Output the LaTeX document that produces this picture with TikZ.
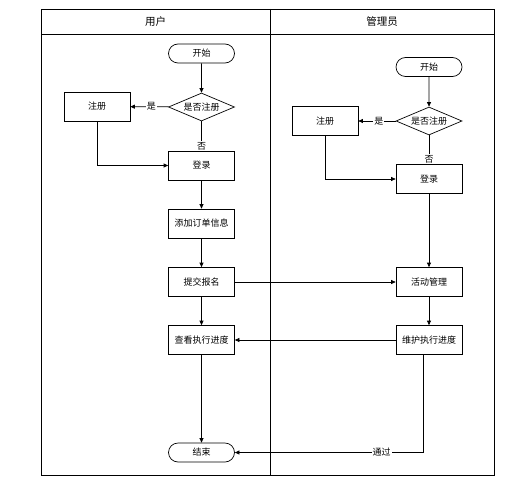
\documentclass[tikz,border=0pt]{standalone}
\usepackage{fontspec}
\setmainfont{Noto Sans CJK SC}
\usetikzlibrary{shapes.geometric,shapes.misc,arrows.meta}
\begin{document}
\begin{tikzpicture}[x=1pt,y=-1pt,
  every node/.style={font=\fontsize{9}{10}\selectfont},
  box/.style={draw,line width=0.7pt,minimum width=66pt,minimum height=29pt,inner sep=0pt},
  term/.style={draw,line width=0.7pt,rounded rectangle,minimum width=66pt,minimum height=19pt,inner sep=0pt},
  dec/.style={draw,line width=0.7pt,diamond,aspect=2.35,minimum width=66pt,minimum height=28pt,inner sep=0pt},
  lbl/.style={fill=white,inner sep=1pt},
  head/.style={font=\fontsize{10.5}{12}\selectfont},
  arr/.style={line width=0.7pt,-{Triangle[length=4.5pt,width=4pt]}},
  ln/.style={line width=0.7pt}]
\useasboundingbox (0,0) rectangle (526,484);
% frame
\draw[line width=0.8pt] (41,9) rectangle (494,475);
\draw[line width=0.8pt] (41,34) -- (494,34);
\draw[line width=0.8pt] (270,9) -- (270,475);
\node[head] (h1) at (155.5,21.5) {用户};
\node[head] (h2) at (382,21.5) {管理员};
% user lane
\node[term] (us) at (201.5,53.5) {开始};
\node[dec] (ud) at (201.5,107) {是否注册};
\node[box] (ur) at (97,106.5) {注册};
\node[box] (ul) at (201.5,165.5) {登录};
\node[box] (ua) at (201.5,223.5) {添加订单信息};
\node[box] (up) at (201.5,282) {提交报名};
\node[box] (uv) at (201.5,340) {查看执行进度};
\node[term] (ue) at (201.5,452.5) {结束};
% admin lane
\node[term] (as) at (429,67) {开始};
\node[dec] (ad) at (429,121) {是否注册};
\node[box] (ar) at (325,121) {注册};
\node[box] (al) at (429,179) {登录};
\node[box] (am) at (429,282) {活动管理};
\node[box] (aw) at (429,340) {维护执行进度};
% user connectors
\draw[arr] (us) -- (ud);
\draw[arr] (ud) -- node[lbl,pos=0.45] {是} (ur);
\draw[arr] (ud) -- node[lbl,pos=0.85] {否} (ul);
\draw[arr] (ur.south) |- (ul.west);
\draw[arr] (ul) -- (ua);
\draw[arr] (ua) -- (up);
\draw[arr] (up) -- (uv);
\draw[arr] (uv) -- (ue);
% admin connectors
\draw[arr] (as) -- (ad);
\draw[arr] (ad) -- node[lbl,pos=0.45] {是} (ar);
\draw[arr] (ad) -- node[lbl,pos=0.83] {否} (al);
\draw[arr] (ar.south) |- (al.west);
\draw[arr] (al) -- (am);
\draw[arr] (am) -- (aw);
% cross-lane
\draw[arr] (up) -- (am);
\draw[arr] (aw) -- (uv);
\coordinate (c1) at ([xshift=-6pt]aw.south);
\draw[arr] (c1) |- node[lbl,pos=0.61] {通过} (ue.east);
\end{tikzpicture}
\end{document}
